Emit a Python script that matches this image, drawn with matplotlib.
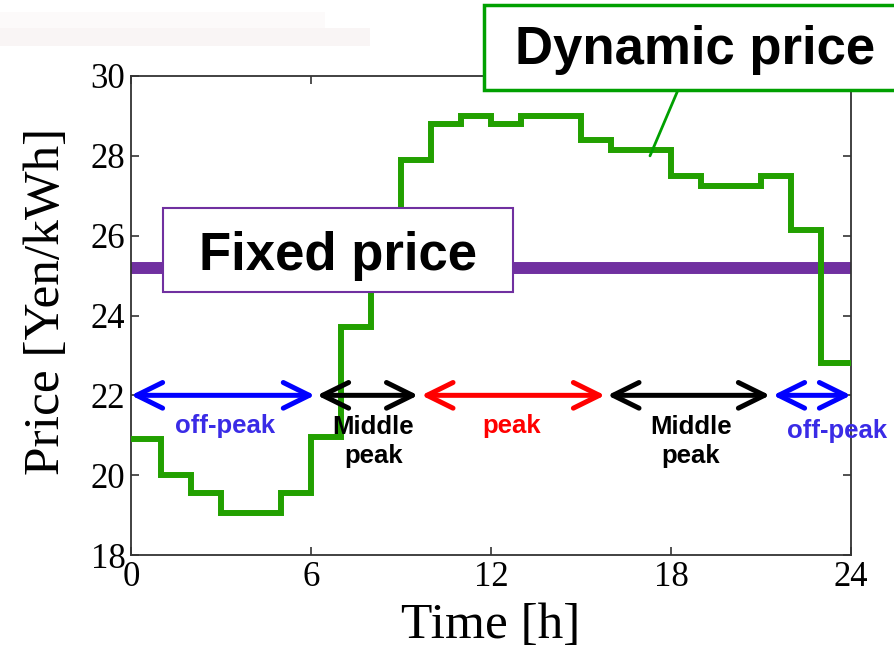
import matplotlib
matplotlib.use("Agg")
import matplotlib.pyplot as plt
from matplotlib.patches import Rectangle

# ---- data ----
hours = list(range(25))  # step edges 0..24
dynamic_price = [20.9, 20.0, 19.55, 19.05, 19.05, 19.55, 20.95, 23.7,
                 25.9, 27.9, 28.8, 29.0, 28.8, 29.0, 29.0, 28.4,
                 28.15, 28.15, 27.5, 27.25, 27.25, 27.5, 26.15, 22.8]
fixed_price = 25.2

period_starts = [0.0, 6.2, 9.68, 15.88, 21.4]
period_ends = [6.13, 9.57, 15.8, 21.3, 24.0]
period_colors = ['#0000FF', '#000000', '#FF0000', '#000000', '#0000FF']
period_labels = ['off-peak', 'Middle\npeak', 'peak', 'Middle\npeak', 'off-peak']
label_x = [3.12, 8.08, 12.7, 18.67, 23.52]
label_y = [21.22, 20.84, 21.22, 20.84, 21.1]
label_colors = ['#3A2BE6', '#000000', '#FF0000', '#000000', '#3A2BE6']
arrow_y = 22.0

xticks = [0, 6, 12, 18, 24]
yticks = [18, 20, 22, 24, 26, 28, 30]

GREEN = '#22A000'
PURPLE = '#7030A0'

W, H = 895, 656
fig = plt.figure(figsize=(W / 100, H / 100), dpi=100)
ax = fig.add_axes([131 / W, 1 - 555 / H, 720 / W, 479 / H])

# faint slide artifact at top-left
fig.patches.append(Rectangle((0, 1 - 46 / H), 370 / W, 18 / H, transform=fig.transFigure,
                             facecolor='#F9F5F5', edgecolor='none', zorder=0))
fig.patches.append(Rectangle((0, 1 - 28 / H), 325 / W, 16 / H, transform=fig.transFigure,
                             facecolor='#FCFAFA', edgecolor='none', zorder=0))

ax.stairs(dynamic_price, hours, color=GREEN, lw=4.3, baseline=None, zorder=3)
ax.plot([hours[0], hours[-1]], [fixed_price, fixed_price], color=PURPLE, lw=8.6,
        solid_capstyle='butt', zorder=2)

for s, e, c in zip(period_starts, period_ends, period_colors):
    ax.annotate('', xy=(e, arrow_y), xytext=(s, arrow_y), annotation_clip=False,
                arrowprops=dict(arrowstyle='<->,head_length=0.85,head_width=0.42',
                                mutation_scale=22, color=c, lw=3.6,
                                capstyle='round', joinstyle='round',
                                shrinkA=0, shrinkB=0), zorder=4)

for x, y, t, c in zip(label_x, label_y, period_labels, label_colors):
    ax.text(x, y, t, color=c, ha='center', va='center', fontsize=18.5,
            fontweight='bold', family='Liberation Sans', linespacing=1.3, zorder=6,
            clip_on=False)

# Fixed price box
ax.add_patch(Rectangle((1.07, 24.58), 11.66, 2.12, facecolor='white', edgecolor=PURPLE,
                       lw=1.5, zorder=5))
ax.text(6.9, 25.5, 'Fixed price', ha='center', va='center', fontsize=38,
        fontweight='bold', family='Liberation Sans', zorder=6)

# Dynamic price box (figure coordinates)
fig.patches.append(Rectangle((484 / W, 1 - 90 / H), 420 / W, 85 / H,
                             transform=fig.transFigure, facecolor='white',
                             edgecolor='#00A000', lw=2.5, zorder=5))
fig.text(695.5 / W, 1 - 50 / H, 'Dynamic price', ha='center', va='center', fontsize=38,
         fontweight='bold', family='Liberation Sans', zorder=6)
ax.annotate('', xy=(17.3, 28.0), xycoords='data', xytext=(678 / W, 1 - 90 / H),
            textcoords='figure fraction', annotation_clip=False,
            arrowprops=dict(arrowstyle='-', color='#00A000', lw=2.0, shrinkA=0, shrinkB=0))

ax.set_xlim(0, 24)
ax.set_ylim(18, 30)
ax.set_xticks(xticks)
ax.set_yticks(yticks)
ax.tick_params(direction='in', top=True, right=True, length=6, width=1.2,
               color='#333333', labelsize=25, pad=4)
for lbl in ax.get_xticklabels() + ax.get_yticklabels():
    lbl.set_family('Liberation Serif')
for sp in ax.spines.values():
    sp.set_color('#333333')
    sp.set_linewidth(1.3)

ax.set_xlabel('Time [h]', fontsize=37, family='Liberation Serif')
ax.set_ylabel('Price [Yen/kWh]', fontsize=37, family='Liberation Serif')
ax.xaxis.set_label_coords(0.5, -0.1)
ax.yaxis.set_label_coords(-0.085, 0.53)

fig.savefig('out.png', dpi=100)
